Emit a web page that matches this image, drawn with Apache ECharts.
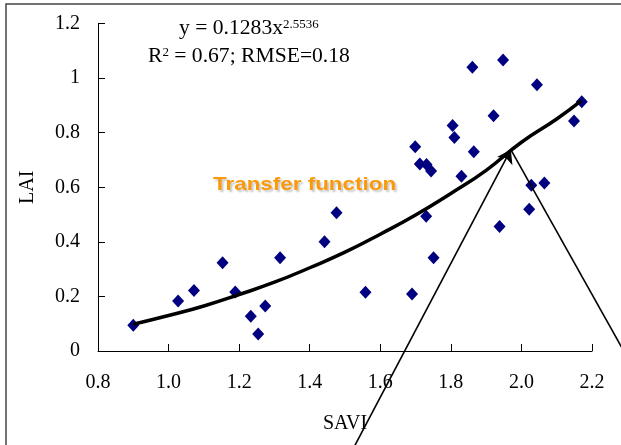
<!DOCTYPE html>
<html>
<head>
<meta charset="utf-8">
<script src="https://cdn.jsdelivr.net/npm/echarts@6/dist/echarts.min.js"></script>
<style>
  html, body { margin: 0; padding: 0; background: #fff; }
  #chart { width: 621px; height: 445px; }
</style>
</head>
<body>
<div id="chart"></div>
<script>
// measured points (SAVI, LAI)
const saviValues = [0.900, 1.027, 1.072, 1.153, 1.189, 1.233, 1.254, 1.274, 1.316, 1.442, 1.476,
  1.558, 1.690, 1.699, 1.712, 1.731, 1.744, 1.730, 1.751, 1.805, 1.810, 1.830, 1.861, 1.865,
  1.921, 1.938, 1.948, 2.022, 2.028, 2.044, 2.065, 2.149, 2.171];
const laiValues = [0.094, 0.183, 0.222, 0.323, 0.216, 0.127, 0.062, 0.165, 0.342, 0.400, 0.507,
  0.215, 0.209, 0.748, 0.685, 0.683, 0.660, 0.494, 0.342, 0.826, 0.782, 0.640, 1.040, 0.730,
  0.862, 0.456, 1.066, 0.519, 0.607, 0.976, 0.616, 0.843, 0.913];

// fitted curve
const curveX = [0.90, 1.00, 1.10, 1.20, 1.30, 1.40, 1.50, 1.60, 1.70, 1.80, 1.90, 2.00, 2.10, 2.17];
const curveY = [0.098, 0.130, 0.165, 0.207, 0.252, 0.305, 0.362, 0.428, 0.498, 0.577, 0.662, 0.765, 0.850, 0.917];

// annotation arrows (data coords)
const arrowUp = [[1.506, -0.400], [1.970, 0.738]];
const arrowDown = [[1.970, 0.738], [2.290, 0.000]];

const chart = echarts.init(document.getElementById('chart'));

const serif = '"Liberation Serif", "Times New Roman", serif';

const option = {
  animation: false,
  grid: { left: 98, right: 29, top: 23.5, bottom: 94 },
  xAxis: {
    type: 'value',
    min: 0.8, max: 2.2, interval: 0.2,
    name: 'SAVI',
    nameLocation: 'middle',
    nameGap: 63,
    nameTextStyle: { fontFamily: serif, fontSize: 20, color: '#000' },
    axisLine: { lineStyle: { color: '#000', width: 1 } },
    axisTick: { inside: true, length: 7, lineStyle: { color: '#000' } },
    axisLabel: { fontFamily: serif, fontSize: 20, color: '#000', margin: 22,
      formatter: v => v.toFixed(1) },
    splitLine: { show: false }
  },
  yAxis: {
    type: 'value',
    min: 0, max: 1.2, interval: 0.2,
    name: 'LAI',
    nameLocation: 'middle',
    nameGap: 60,
    nameTextStyle: { fontFamily: serif, fontSize: 20, color: '#000' },
    axisLine: { show: true, lineStyle: { color: '#000', width: 1 } },
    axisTick: { show: true, inside: true, length: 7, lineStyle: { color: '#000' } },
    axisLabel: { fontFamily: serif, fontSize: 20, color: '#000', margin: 18,
      formatter: v => String(+v.toFixed(1)) },
    splitLine: { show: false }
  },
  series: [
    {
      type: 'line',
      data: curveX.map((x, i) => [x, curveY[i]]),
      smooth: true,
      showSymbol: false,
      lineStyle: { color: '#000', width: 3.5 },
      z: 3
    },
    {
      type: 'scatter',
      data: saviValues.map((x, i) => [x, laiValues[i]]),
      symbol: 'diamond',
      symbolSize: [12, 13],
      itemStyle: { color: '#000080', opacity: 1 },
      z: 2
    },
    {
      type: 'lines',
      coordinateSystem: 'cartesian2d',
      clip: false,
      symbol: ['none', 'arrow'],
      symbolSize: 13,
      lineStyle: { color: '#000', width: 1.6, opacity: 1 },
      data: [{ coords: arrowUp }],
      z: 4
    },
    {
      type: 'lines',
      coordinateSystem: 'cartesian2d',
      clip: false,
      symbol: ['none', 'none'],
      lineStyle: { color: '#000', width: 1.6, opacity: 1 },
      data: [{ coords: arrowDown }],
      z: 4
    }
  ],
  graphic: [
    {
      type: 'rect',
      shape: { x: 6, y: 4, width: 640, height: 460 },
      style: { fill: 'none', stroke: '#444', lineWidth: 1.5 },
      silent: true
    },
    {
      type: 'text',
      x: 179, y: 19,
      scaleX: 1.08,
      style: {
        text: '{a|y = 0.1283x}{s|2.5536}',
        rich: {
          a: { fontFamily: serif, fontSize: 20, fill: '#000', verticalAlign: 'bottom' },
          s: { fontFamily: serif, fontSize: 12, fill: '#000', verticalAlign: 'top' }
        }
      }
    },
    {
      type: 'text',
      x: 148, y: 47,
      scaleX: 1.08,
      style: {
        text: '{a|R}{s|2}{a| = 0.67; RMSE=0.18}',
        rich: {
          a: { fontFamily: serif, fontSize: 20, fill: '#000', verticalAlign: 'bottom' },
          s: { fontFamily: serif, fontSize: 12, fill: '#000', verticalAlign: 'top' }
        }
      }
    },
    {
      type: 'text',
      x: 213, y: 175,
      scaleX: 1.18,
      style: {
        text: 'Transfer function',
        fontFamily: '"Liberation Sans", Arial, sans-serif',
        fontWeight: 'bold',
        fontSize: 19,
        fill: '#FA9A0A',
        textShadowColor: 'rgba(0,0,0,0.22)',
        textShadowOffsetX: 2,
        textShadowOffsetY: 2,
        textShadowBlur: 2
      }
    }
  ]
};

chart.setOption(option);
</script>
</body>
</html>
